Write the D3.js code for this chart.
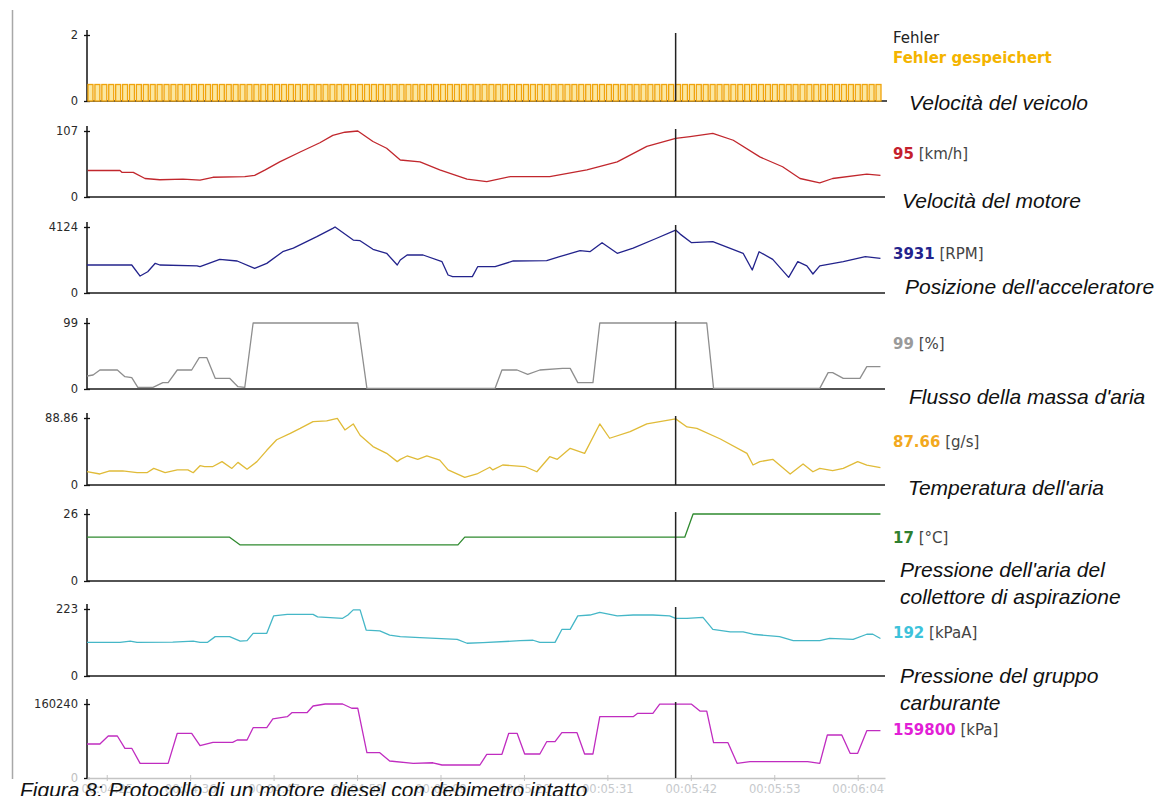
<!DOCTYPE html>
<html>
<head>
<meta charset="utf-8">
<script src="https://cdn.jsdelivr.net/npm/d3@7"></script>
<style>
  body { margin: 0; background: #fff; }
  svg { display: block; }
</style>
</head>
<body>
<svg id="chart" width="1167" height="796"></svg>
<script>
// ---- Recorded values: [time in seconds, value] ----
const timeTicks = [265, 276, 287, 298, 309, 320, 331, 342, 353, 364];
const cursorTime = 340;

const speedData = [[262.5,43],[266.75,43],[267.0,40],[268.5,40],[270.05,30],[272.0,28],[275.05,29],[277.3,27.5],[279.0,32],[283.2,33],[284.5,35],[285.9,44],[287.8,57],[290.5,73],[293.1,88],[294.8,100],[296.4,105],[298.1,107],[300.1,90],[301.9,79],[303.7,60],[306.3,57],[308.9,44],[312.5,29],[315.1,25],[318.2,33],[323.4,33],[328.3,44],[332.3,57],[336.2,82],[340.0,95],[341.9,98],[344.9,103],[347.6,92],[351.1,65],[354.1,49],[356.4,30],[359.0,23],[360.7,30],[365.2,37],[367.0,35]];

const rpmData = [[262.4,1750],[268.3,1750],[269.4,1060],[270.4,1330],[271.4,1856],[272.0,1750],[276.9,1700],[277.3,1650],[279.9,2100],[282.2,2000],[284.5,1540],[286.1,1850],[288.2,2580],[289.6,2800],[292.7,3520],[294.8,4040],[295.1,4124],[297.5,3310],[298.4,3270],[300.1,2730],[301.9,2480],[303.3,1750],[303.7,2060],[304.6,2375],[306.7,2375],[309.2,1956],[310.0,1125],[310.6,1020],[313.2,1020],[313.9,1644],[316.2,1644],[318.6,2000],[323.0,2020],[324.7,2270],[327.4,2644],[328.7,2580],[330.3,3144],[332.3,2480],[334.4,2800],[337.5,3420],[340.0,3931],[340.6,3680],[342.1,3144],[344.9,3206],[348.9,2480],[350.1,1437],[351.0,2580],[352.8,2105],[354.9,980],[356.1,1956],[357.3,1690],[358.1,1187],[359.0,1690],[362.1,1956],[365.0,2270],[367.0,2170]];

const throttleData = [[262.4,19.5],[263.2,21],[264.1,28.5],[266.4,28.5],[267.4,18.5],[268.3,17],[269.1,2.5],[271.1,2.5],[272.4,9.5],[273.1,9.5],[274.3,28.5],[276.2,28.5],[277.2,47],[278.2,47],[279.3,16],[281.2,16],[282.3,3.5],[283.2,2.5],[284.3,99],[298.1,99],[299.3,1],[316.2,1],[317.1,28.5],[319.1,28.5],[320.5,22],[322.1,28.5],[325.1,31],[326.1,31],[327.1,9.5],[329.1,9.5],[330.0,99],[344.1,99],[345.0,1],[359.0,1],[360.1,24.5],[360.7,24.5],[362.1,16],[364.3,16],[365.2,33.5],[367.0,33.5]];

const mafData = [[262.4,17.6],[264.1,14.6],[265.4,18.6],[267.1,18.6],[269.0,16.3],[270.3,16.3],[271.2,22],[272.7,16.3],[274.3,20],[275.7,20],[276.4,16.3],[277.3,25.6],[277.9,24.5],[279.0,24.5],[280.2,31],[281.5,22],[282.3,30],[283.5,21],[284.8,31],[286.1,46],[287.4,60],[289.2,68.5],[290.5,75],[292.2,84],[294.0,85],[295.4,88.4],[296.4,73],[297.5,81],[298.4,66],[300.1,51],[301.9,42],[303.3,31],[303.7,34],[304.6,38.5],[306.0,34],[307.2,38.5],[308.9,33],[310.0,20],[312.2,10],[313.8,14.6],[315.5,23.5],[315.9,20],[317.2,26.5],[320.1,24.5],[321.7,17.6],[323.4,37.5],[324.4,34],[326.1,48.6],[328.0,42],[330.0,81],[331.3,62],[334.0,70.7],[336.2,81],[340.0,87.66],[341.5,77],[342.8,75],[345.9,61],[349.4,42],[350.2,26.5],[351.1,31],[352.8,34],[355.1,14.6],[356.8,28],[358.1,17.6],[359.0,22],[360.7,19],[362.1,22],[364.0,31],[365.2,26.5],[367.0,23]];

const tempData = [[262.4,17],[281.2,17],[282.6,14],[311.3,14],[312.2,17],[341.2,17],[342.3,26],[367.0,26]];

const mapData = [[262.4,112],[266.75,112],[268.1,116],[269.0,112],[273.7,113],[276.4,116],[277.3,112],[278.3,112],[279.3,131],[281.2,131],[282.6,116],[283.5,118],[284.3,142],[286.1,142],[287.0,200],[288.8,205],[292.2,205],[292.8,197],[296.1,192],[296.8,203],[297.5,220],[298.4,220],[299.2,153],[301.0,150],[302.3,136],[303.7,131],[306.3,128],[311.2,122],[312.5,109],[314.6,111],[319.5,117.5],[321.2,119],[322.1,112],[324.1,112],[325.0,155],[326.1,155],[327.1,200],[328.7,203],[330.0,212],[332.3,200],[334.4,203],[337.0,203],[339.2,200],[340.0,192],[341.5,192],[343.6,195],[344.9,155],[347.2,147],[348.9,147],[350.2,139],[353.7,131],[355.5,117.5],[359.0,117.5],[360.3,125],[363.4,122],[365.2,139],[366.0,139],[367.0,125]];

const fuelData = [[262.4,73600],[264.1,73600],[265.2,91000],[266.4,91000],[267.4,64300],[268.3,64300],[269.4,31800],[273.1,31800],[274.3,96800],[276.2,96800],[277.3,70000],[279.0,77300],[281.6,77300],[282.2,82300],[283.5,82300],[284.3,109000],[286.1,109000],[286.9,127800],[288.8,132700],[289.4,141400],[291.4,141400],[292.2,155900],[293.8,160240],[296.1,160240],[297.3,151000],[298.1,151000],[299.3,54800],[301.0,54800],[302.3,36800],[305.4,31800],[308.0,33000],[309.2,28150],[314.2,28150],[315.1,51300],[317.1,51300],[318.0,96800],[319.1,96800],[320.1,52000],[322.1,52000],[323.0,78600],[324.1,78600],[325.0,98100],[327.0,98100],[328.0,52000],[329.1,52000],[330.0,132700],[334.4,132700],[335.0,140100],[337.0,140100],[337.9,159800],[342.1,159800],[343.2,145000],[344.1,145000],[345.0,76400],[346.9,76400],[348.1,31800],[349.8,35300],[357.4,35300],[359.0,31800],[360.0,93100],[361.9,93100],[363.0,53500],[364.0,53500],[365.2,102400],[367.0,102400]];

// stored-fault flag, one entry per logger sample
const fehlerGespeichert = [0.5,0.5,0.5,0.5,0.5,0.5,0.5,0.5,0.5,0.5,0.5,0.5,0.5,0.5,0.5,0.5,0.5,0.5,0.5,0.5,0.5,0.5,0.5,0.5,0.5,0.5,0.5,0.5,0.5,0.5,0.5,0.5,0.5,0.5,0.5,0.5,0.5,0.5,0.5,0.5,0.5,0.5,0.5,0.5,0.5,0.5,0.5,0.5,0.5,0.5,0.5,0.5,0.5,0.5,0.5,0.5,0.5,0.5,0.5,0.5,0.5,0.5,0.5,0.5,0.5,0.5,0.5,0.5,0.5,0.5,0.5,0.5,0.5,0.5,0.5,0.5,0.5,0.5,0.5,0.5,0.5,0.5,0.5,0.5,0.5,0.5,0.5,0.5,0.5,0.5,0.5,0.5,0.5,0.5,0.5,0.5,0.5,0.5,0.5,0.5,0.5,0.5,0.5,0.5,0.5,0.5,0.5,0.5,0.5,0.5,0.5,0.5,0.5,0.5,0.5];

const yMaxValues = [2, 107, 4124, 99, 88.86, 26, 223, 160240];
const yTopLabels = ["2", "107", "4124", "99", "88.86", "26", "223", "160240"];

const seriesNames = [
  ["Velocità del veicolo"],
  ["Velocità del motore"],
  ["Posizione dell'acceleratore"],
  ["Flusso della massa d'aria"],
  ["Temperatura dell'aria"],
  ["Pressione dell'aria del", "collettore di aspirazione"],
  ["Pressione del gruppo", "carburante"]
];
const cursorValues = ["95", "3931", "99", "87.66", "17", "192", "159800"];
const units = ["[km/h]", "[RPM]", "[%]", "[g/s]", "[°C]", "[kPaA]", "[kPa]"];
const legendNames = ["Fehler", "Fehler gespeichert"];
const captionText = "Figura 8: Protocollo di un motore diesel con debimetro intatto";

// ---- Layout & styling ----
const lineColors  = ["#c1272d", "#23238c", "#8e8e8e", "#e0bb38", "#2f8a2f", "#45b7c7", "#c02cc0"];
const labelColors = ["#c4202c", "#23238c", "#9a9a9a", "#f2a91f", "#2f7f2f", "#3dc2da", "#e21fd6"];
const seriesData = [speedData, rpmData, throttleData, mafData, tempData, mapData, fuelData];

const panelTop  = [35, 131, 227, 323, 418, 514, 609, 704];
const panelZero = [101, 197, 293, 389, 485, 581, 676, 778];
const nameX = [909, 902, 905, 909, 908, 900, 900];
const nameBaseline = [110, 208, 294, 404, 495, 577, 683];
const valueBaseline = [159, 259, 349, 447, 543, 638, 735];

const svg = d3.select("#chart");
const x = d3.scaleLinear().domain([262.4, 367.6]).range([87, 885]);
const fmtTime = d3.utcFormat("%H:%M:%S");

// left frame line
svg.append("line")
  .attr("x1", 12.5).attr("x2", 12.5).attr("y1", 10).attr("y2", 779)
  .attr("stroke", "#a8a8a8").attr("stroke-width", 1.5);

const yScales = yMaxValues.map((m, i) =>
  d3.scaleLinear().domain([0, m]).range([panelZero[i], panelTop[i]]));

// y axes, one per panel
yScales.forEach((y, i) => {
  const last = i === yScales.length - 1;
  const g = svg.append("g").attr("transform", "translate(87,0)");
  g.call(d3.axisLeft(y)
      .tickValues([0, yMaxValues[i]])
      .tickFormat((d, k) => k === 0 ? "0" : yTopLabels[i])
      .tickSizeInner(3).tickSizeOuter(0).tickPadding(6));
  g.select(".domain").remove();
  g.selectAll(".tick line").attr("x1", 3).attr("x2", -3).attr("stroke", "#111").attr("stroke-width", 1.3);
  g.selectAll(".tick text")
    .attr("font-family", "DejaVu Sans").attr("font-size", 11.5).attr("fill", "#2a2a2a");
  if (last) g.selectAll(".tick").filter(d => d === 0).select("text").attr("fill", "#c0c0c0");
  g.append("line")
    .attr("x1", 0).attr("x2", 0)
    .attr("y1", panelTop[i] - 5).attr("y2", panelZero[i])
    .attr("stroke", "#111").attr("stroke-width", 1.5);
  // zero baseline
  if (!last) {
    svg.append("line")
      .attr("x1", 87).attr("x2", i === 0 ? 887 : 885)
      .attr("y1", panelZero[i]).attr("y2", panelZero[i])
      .attr("stroke", "#1a1a1a").attr("stroke-width", 1.5);
  }
});

// time axis
const tAxis = svg.append("g").attr("transform", `translate(0,${panelZero[7]})`)
  .call(d3.axisBottom(x).tickValues(timeTicks)
    .tickFormat(d => fmtTime(new Date(d * 1000)))
    .tickSizeInner(3).tickSizeOuter(0).tickPadding(4));
tAxis.select(".domain").attr("stroke", "#c4c4c4").attr("stroke-width", 1.3);
tAxis.selectAll(".tick line").attr("y1", -3).attr("stroke", "#c4c4c4");
tAxis.selectAll(".tick text")
  .attr("font-family", "DejaVu Sans").attr("font-size", 11.5).attr("fill", "#c6c9cc");

// stored-fault bars
const band = d3.scaleBand().domain(d3.range(fehlerGespeichert.length))
  .range([88, 881]).paddingInner(0.28);
svg.append("g").selectAll("rect").data(fehlerGespeichert).join("rect")
  .attr("x", (d, i) => band(i))
  .attr("width", band.bandwidth())
  .attr("y", d => yScales[0](d))
  .attr("height", d => yScales[0](0) - yScales[0](d))
  .attr("fill", "#fbe7a0")
  .attr("stroke", "#f0a40c").attr("stroke-width", 1.3);

// series lines
seriesData.forEach((data, i) => {
  const y = yScales[i + 1];
  svg.append("path").datum(data)
    .attr("fill", "none")
    .attr("stroke", lineColors[i]).attr("stroke-width", 1.3)
    .attr("stroke-linejoin", "round")
    .attr("d", d3.line().x(d => x(d[0])).y(d => y(d[1])));
});

// cursor
yScales.forEach((y, i) => {
  svg.append("line")
    .attr("x1", x(cursorTime)).attr("x2", x(cursorTime))
    .attr("y1", panelTop[i] - 2).attr("y2", panelZero[i])
    .attr("stroke", "#222").attr("stroke-width", 1.5);
});

// legend of the fault panel
svg.append("text").attr("x", 893).attr("y", 43)
  .attr("font-family", "DejaVu Sans").attr("font-size", 15).attr("fill", "#222")
  .text(legendNames[0]);
svg.append("text").attr("x", 893).attr("y", 63)
  .attr("font-family", "DejaVu Sans").attr("font-size", 15).attr("font-weight", "bold")
  .attr("fill", "#f4b400").text(legendNames[1]);

// current values at the cursor
cursorValues.forEach((v, i) => {
  const t = svg.append("text").attr("x", 893).attr("y", valueBaseline[i])
    .attr("font-family", "DejaVu Sans").attr("font-size", 15);
  t.append("tspan").attr("font-weight", "bold").attr("fill", labelColors[i]).text(v);
  t.append("tspan").attr("fill", "#444").text(" " + units[i]);
});

// signal names
seriesNames.forEach((lines, i) => {
  const t = svg.append("text")
    .attr("font-family", "Liberation Sans, Arial, sans-serif")
    .attr("font-style", "italic").attr("font-size", 21).attr("fill", "#111");
  lines.forEach((s, k) => {
    t.append("tspan").attr("x", nameX[i]).attr("y", nameBaseline[i] + k * 27).text(s);
  });
});

// caption
svg.append("text").attr("x", 20).attr("y", 797)
  .attr("font-family", "Liberation Sans, Arial, sans-serif")
  .attr("font-style", "italic").attr("font-size", 21).attr("fill", "#111")
  .text(captionText);
</script>
</body>
</html>
